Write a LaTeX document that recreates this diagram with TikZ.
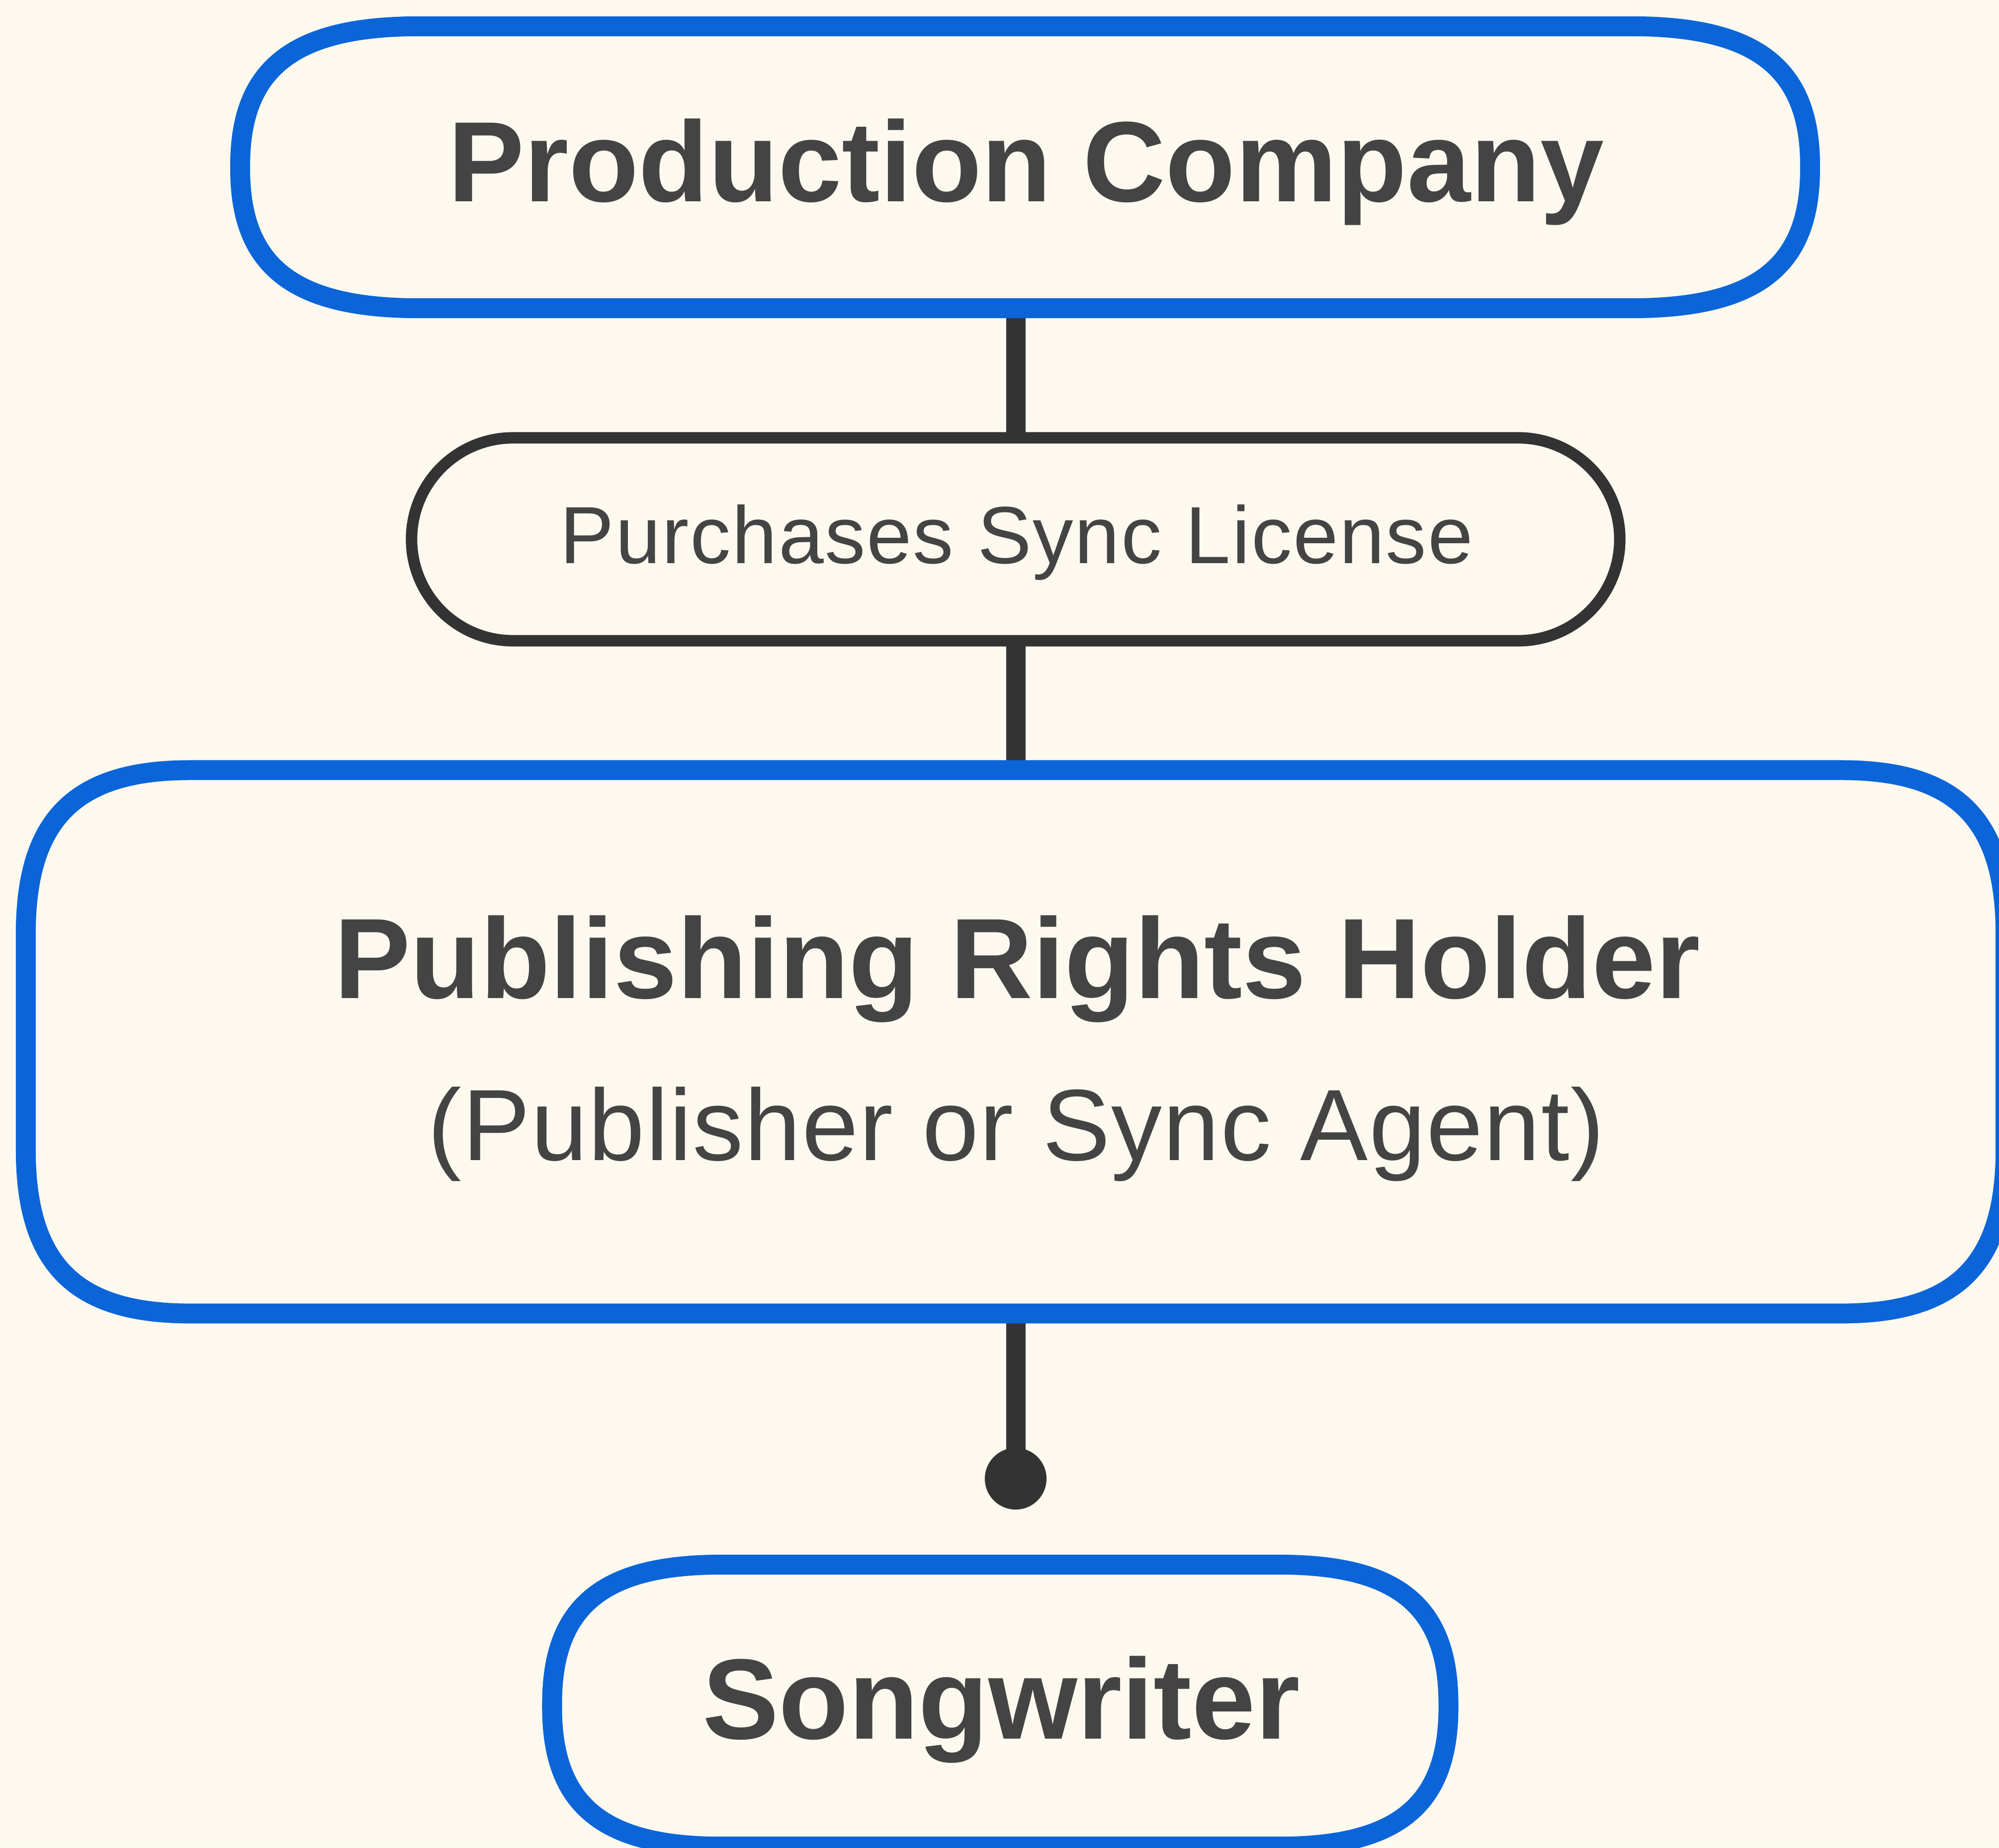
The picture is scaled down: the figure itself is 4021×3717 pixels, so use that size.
\documentclass[tikz,border=0pt]{standalone}
\usepackage{fontspec}
\setmainfont{Liberation Sans}
\usetikzlibrary{calc,shapes.misc}
\definecolor{paper}{RGB}{253,249,239}
\definecolor{azur}{RGB}{11,101,216}
\definecolor{ink}{RGB}{68,68,68}
\definecolor{wire}{RGB}{51,51,51}

% soft-cornered outline round a named box: node, x-radius, y-radius
\newcommand{\cardoutline}[3]{%
  \draw[cardline] ($(#1.north west)+(#2,0)$) -- ($(#1.north east)+(-#2,0)$)
    .. controls ($(#1.north east)+(-0.3*#2,0)$) and ($(#1.north east)+(0,0.3*#3)$) .. ($(#1.north east)+(0,#3)$)
    -- ($(#1.south east)+(0,-#3)$)
    .. controls ($(#1.south east)+(0,-0.3*#3)$) and ($(#1.south east)+(-0.3*#2,0)$) .. ($(#1.south east)+(-#2,0)$)
    -- ($(#1.south west)+(#2,0)$)
    .. controls ($(#1.south west)+(0.3*#2,0)$) and ($(#1.south west)+(0,-0.3*#3)$) .. ($(#1.south west)+(0,-#3)$)
    -- ($(#1.north west)+(0,#3)$)
    .. controls ($(#1.north west)+(0,0.3*#3)$) and ($(#1.north west)+(0.3*#2,0)$) .. cycle;}

\begin{document}
\begin{tikzpicture}[x=0.01cm,y=-0.01cm,
  cardbox/.style={rectangle,inner sep=0pt,outer sep=0pt},
  cardline/.style={draw=azur,fill=paper,line width=0.40cm,line join=round},
  licbox/.style={rounded rectangle,draw=wire,fill=paper,line width=0.23cm,inner sep=0pt,outer sep=0pt},
  wireline/.style={draw=wire,line width=0.39cm},
  tipdot/.style={circle,fill=wire,inner sep=0pt,outer sep=0pt,minimum size=1.24cm},
  bigtxt/.style={text=ink,font=\fontsize{65.4pt}{70pt}\selectfont\bfseries,anchor=base,inner sep=0pt},
  smalltxt/.style={text=ink,font=\fontsize{46.4pt}{50pt}\selectfont\addfontfeature{LetterSpace=1.6},anchor=base,inner sep=0pt},
  subtxt/.style={text=ink,font=\fontsize{58pt}{62pt}\selectfont\addfontfeature{LetterSpace=1},anchor=base,inner sep=0pt}]

\fill[paper] (0,0) rectangle (4021,3717);
\useasboundingbox (0,0) rectangle (4021,3717);

\node[cardbox,minimum width=31.56cm,minimum height=5.67cm] (prod) at (2062,336.5) {};
\node[licbox,minimum width=24.29cm,minimum height=4.08cm] (lic) at (2043,1085) {};
\node[cardbox,minimum width=39.80cm,minimum height=10.925cm] (pub) at (2043,2096) {};
\node[tipdot] (tip) at (2043,2975) {};
\node[cardbox,minimum width=18.02cm,minimum height=5.67cm] (song) at (2012,3431.5) {};

\draw[wireline] (prod.south -| lic.north) -- (lic.north);
\draw[wireline] (lic.south) -- (pub.north);
\draw[wireline] (pub.south) -- (tip.center);

\cardoutline{prod}{360}{280}
\cardoutline{pub}{330}{330}
\cardoutline{song}{340}{280}

\node[bigtxt] (prodtxt) at (2064,405) {Production Company};
\node[smalltxt] (lictxt) at (2045,1133) {Purchases Sync License};
\node[bigtxt] (pubtxt) at (2046,2008) {Publishing Rights Holder};
\node[subtxt] (pubsub) at (2044,2334) {(Publisher or Sync Agent)};
\node[bigtxt] (songtxt) at (2014,3498) {Songwriter};

\end{tikzpicture}
\end{document}
